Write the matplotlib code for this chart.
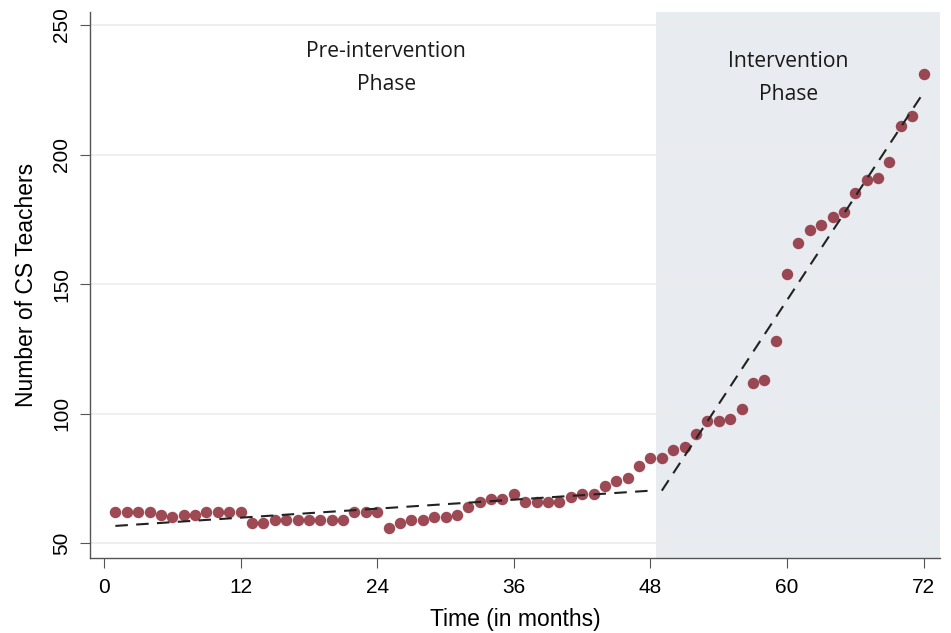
import numpy as np
import matplotlib
matplotlib.use("Agg")
import matplotlib.pyplot as plt

# monthly counts
months = list(range(1, 73))
teachers = [
    62, 62, 62, 62, 61, 60, 61, 61, 62, 62, 62, 62,
    58, 58, 59, 59, 59, 59, 59, 59, 59, 62, 62, 62,
    56, 58, 59, 59, 60, 60, 61, 64, 66, 67, 67, 69,
    66, 66, 66, 66, 68, 69, 69, 72, 74, 75, 80, 83,
    83, 86, 87, 92, 97, 97, 98, 102, 112, 113, 128, 154,
    166, 171, 173, 176, 178, 185, 190, 191, 197, 211, 215, 231,
]

# fitted segments (dashed)
pre_fit_x = [1, 48]
pre_fit_y = [56.7, 70.3]
post_fit_x = [49, 72]
post_fit_y = [70.3, 224.0]

x_ticks = [0, 12, 24, 36, 48, 60, 72]
y_ticks = [50, 100, 150, 200, 250]
intervention_start = 48.5

fig = plt.figure(figsize=(9.51, 6.33), dpi=100)
ax = fig.add_axes([0.095, 0.118, 0.893, 0.863])

ax.set_xlim(-1.2, 73.4)
ax.set_ylim(44.2, 255)

ax.axvspan(intervention_start, 73.4, color="#e8ebf0", zorder=0, lw=0)
for yv in y_ticks:
    ax.axhline(yv, color="#ececec", lw=1.2, zorder=1)

ax.scatter(months, teachers, s=68, color="#8c2a37", alpha=0.85, lw=0, zorder=3)
ax.plot(pre_fit_x, pre_fit_y, color="#222222", lw=1.5, ls=(0, (6, 4)), zorder=4)
ax.plot(post_fit_x, post_fit_y, color="#222222", lw=1.5, ls=(0, (6, 4)), zorder=4)

ax.text(24.8, 233.5, "Pre-intervention\nPhase", ha="center", va="center",
        fontsize=15.2, family="Open Sans", color="#1a1a1a", linespacing=1.75)
ax.text(60.1, 229.4, "Intervention\nPhase", ha="center", va="center",
        fontsize=15.2, family="Open Sans", color="#1a1a1a", linespacing=1.75)

ax.set_xticks(x_ticks)
ax.set_yticks(y_ticks)
ax.tick_params(axis="both", labelsize=15, length=7, color="#555555", pad=7)
for lab in ax.get_yticklabels():
    lab.set_rotation(90)
    lab.set_va("center")
for lab in ax.get_xticklabels() + ax.get_yticklabels():
    lab.set_family("Liberation Sans")

ax.set_xlabel("Time (in months)", fontsize=16.5, family="Liberation Sans", labelpad=8)
ax.set_ylabel("Number of CS Teachers", fontsize=16.5, family="Liberation Sans", labelpad=10)

for side in ["top", "right"]:
    ax.spines[side].set_visible(False)
for side in ["left", "bottom"]:
    ax.spines[side].set_color("#555555")
    ax.spines[side].set_linewidth(1.0)

fig.savefig("out.png", dpi=100)
